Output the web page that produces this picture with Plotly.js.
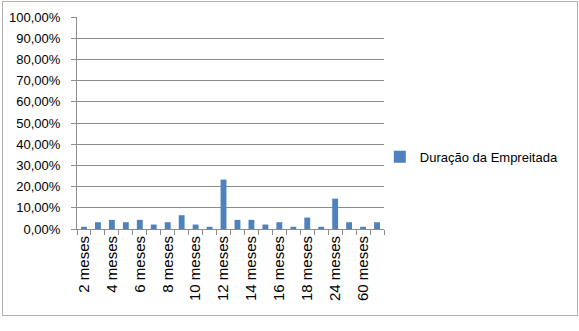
<!DOCTYPE html>
<html>
<head>
<meta charset="utf-8">
<script src="https://cdn.plot.ly/plotly-3.0.1.min.js"></script>
<style>
  html, body { margin: 0; padding: 0; background: #ffffff; }
  #wrap { position: relative; width: 579px; height: 331px; }
  #chart { position: absolute; left: 0; top: 0; width: 579px; height: 331px; }
  #frame { position: absolute; left: 2px; top: 1px; width: 574px; height: 313px;
           border: 1px solid #b3b3b3; pointer-events: none; }
</style>
</head>
<body>
<div id="wrap">
  <div id="chart"></div>
  <div id="frame"></div>
</div>
<script>
// Categories (every second label is shown on the axis)
const categories = ['2 meses','3 meses','4 meses','5 meses','6 meses','7 meses','8 meses','9 meses',
  '10 meses','11 meses','12 meses','13 meses','14 meses','15 meses','16 meses','17 meses',
  '18 meses','20 meses','24 meses','36 meses','60 meses','72 meses'];
const seriesName = 'Duração da Empreitada';
const values = [0.0105, 0.032, 0.043, 0.032, 0.043, 0.021, 0.032, 0.065, 0.021, 0.0105, 0.233,
  0.043, 0.043, 0.021, 0.032, 0.0105, 0.054, 0.0105, 0.143, 0.032, 0.0105, 0.032];
const yTickVals = [0, 0.1, 0.2, 0.3, 0.4, 0.5, 0.6, 0.7, 0.8, 0.9, 1.0];

const tickText = categories.map((c, i) => (i % 2 === 0 ? c : ''));

const font = 'Liberation Sans, Arial, sans-serif';
const gray = '#8c8c8c';

const trace = {
  type: 'bar',
  x: categories,
  y: values,
  name: seriesName,
  marker: { color: '#4f81bd' },
  showlegend: true
};

const layout = {
  width: 579, height: 331,
  margin: { l: 77, r: 195, t: 17, b: 102, pad: 0, autoexpand: false },
  paper_bgcolor: '#ffffff', plot_bgcolor: '#ffffff',
  separators: ',.',
  font: { family: font, size: 13, color: '#000000' },
  bargap: 0.58,
  showlegend: true,
  legend: {
    xref: 'container', yref: 'container',
    x: 0.656, y: 0.526, xanchor: 'left', yanchor: 'middle',
    font: { family: font, size: 13, color: '#000000' },
    itemwidth: 30, bgcolor: 'rgba(0,0,0,0)'
  },
  xaxis: {
    type: 'category',
    tickmode: 'array', tickvals: categories, ticktext: tickText,
    tickson: 'boundaries', ticks: 'outside', ticklen: 5, tickcolor: gray,
    tickangle: -90, tickfont: { family: font, size: 15, color: '#000000' },
    showline: true, linecolor: gray, linewidth: 1,
    showgrid: false, zeroline: false, fixedrange: true
  },
  yaxis: {
    range: [0, 1], tickmode: 'array', tickvals: yTickVals, tickformat: '.2%',
    ticks: 'outside', ticklen: 5, tickcolor: gray, ticklabelstandoff: 8,
    tickfont: { family: font, size: 13, color: '#000000' },
    showline: true, linecolor: gray, linewidth: 1,
    showgrid: true, gridcolor: gray, gridwidth: 1, zeroline: false, fixedrange: true
  }
};

Plotly.newPlot('chart', [trace], layout, { displayModeBar: false, staticPlot: true });
</script>
</body>
</html>
